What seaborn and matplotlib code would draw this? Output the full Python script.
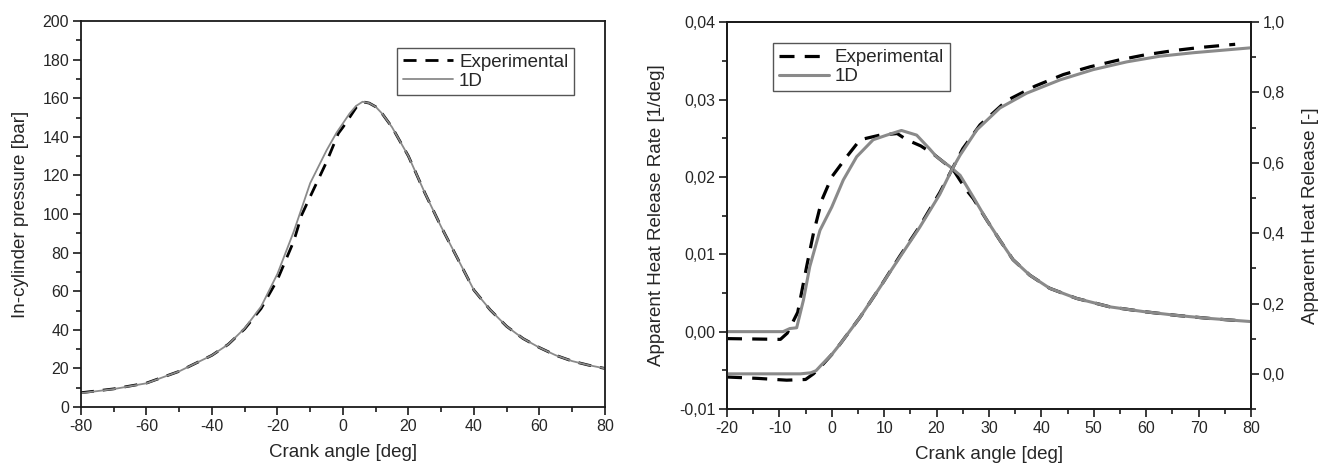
import pandas as pd
import numpy as np
import seaborn as sns
import matplotlib.pyplot as plt
from matplotlib.ticker import MultipleLocator, FixedLocator

# Left panel: in-cylinder pressure [bar] vs crank angle [deg]
p_sim_deg = [-80, -70, -60, -50, -40, -35, -30, -25, -20, -15, -10, -5, -2, 0, 2, 4, 6, 8,
             10, 12, 15, 20, 25, 30, 35, 40, 45, 50, 55, 60, 65, 70, 75, 80]
p_sim = [7.2, 9.3, 12.3, 18.5, 26.8, 32.5, 40.8, 52, 69, 91, 116, 133, 142, 147, 152, 156, 158.2, 157.5,
         155.6, 152, 145, 130, 111, 93.4, 77, 60.6, 50.3, 41.8, 35.5, 30.8, 26.8, 23.8, 21.7, 20]
p_exp_deg = [-80, -70, -60, -50, -40, -35, -30, -25, -20, -15, -12.6, -10, -5, -1.4, 0, 2, 4.2, 6.5, 8,
             10, 12, 15, 20, 25, 30, 35, 40, 45, 50, 55, 60, 65, 70, 75, 80]
p_exp = [7.4, 9.4, 12.4, 18.5, 26.8, 32.5, 40.5, 51, 66, 86, 99.5, 109, 127, 141.8, 145, 150, 155.6, 158, 157.5,
         155.6, 152, 145, 130, 111, 93.4, 77, 60.6, 50.3, 41.8, 35.5, 30.8, 26.8, 23.8, 21.7, 20]

# Right panel: apparent heat release rate [1/deg]
hrr_sim_deg = [-20, -9.3, -8, -6.7, -5.4, -4.2, -2.25, 0, 2.2, 4.75, 7.9, 10.5, 13.3, 16.2, 18.7, 20.0,
               22.6, 24.5, 27.0, 29.6, 32.1, 34.6, 37.8, 41.6, 46.7, 53.1, 59.4, 65.8, 72.2, 80]
hrr_sim = [0.0, 0.0, 0.0004, 0.0005, 0.0041, 0.0084, 0.0131, 0.0161, 0.0196, 0.0226, 0.0248, 0.0254, 0.026,
           0.0254, 0.0236, 0.0226, 0.0213, 0.0202, 0.0174, 0.0144, 0.0118, 0.0093, 0.0073, 0.0056, 0.0043,
           0.0032, 0.0026, 0.0021, 0.0017, 0.0013]
hrr_exp_deg = [-20, -9.8, -8.5, -6.5, -4.8, -3.5, -1.9, 0, 2.85, 5.4, 9.2, 12.5, 14.3, 17, 19.5, 23.2, 25.7,
               27.0, 29.6, 32.1, 34.6, 37.8, 41.6, 46.7, 53.1, 59.4, 65.8, 72.2, 78]
hrr_exp = [-0.0009, -0.001, -0.0002, 0.0025, 0.0084, 0.0127, 0.017, 0.020, 0.0226, 0.0248, 0.0254, 0.0256,
           0.0248, 0.0240, 0.0229, 0.0209, 0.0183, 0.0172, 0.0144, 0.0118, 0.0093, 0.0073, 0.0056, 0.0043,
           0.0032, 0.0026, 0.0021, 0.0017, 0.0014]

# Right panel: apparent heat release [-] (right axis)
ahr_sim_deg = [-20, -6, -4, -3, -2, 0, 1.6, 5.4, 9.2, 13, 16.8, 20.6, 22.9, 24.5, 27.7, 32.1, 37.2, 43.6,
               49.9, 56.3, 62.6, 69, 80]
ahr_sim = [0.0, 0.0, 0.003, 0.009, 0.025, 0.055, 0.085, 0.161, 0.246, 0.332, 0.417, 0.51, 0.58, 0.622,
           0.694, 0.756, 0.798, 0.836, 0.865, 0.887, 0.903, 0.913, 0.927]
ahr_exp_deg = [-20, -14, -8.6, -5, -3.5, -2, 0, 1.6, 5.4, 9.2, 13, 16.8, 20.6, 22.9, 25, 28.3, 33.4, 38.8,
               44.2, 49.3, 54.7, 59.8, 65.2, 70.3, 77]
ahr_exp = [-0.009, -0.013, -0.018, -0.016, 0.0, 0.022, 0.055, 0.085, 0.161, 0.246, 0.335, 0.42, 0.515, 0.58,
           0.64, 0.708, 0.777, 0.818, 0.851, 0.873, 0.892, 0.907, 0.919, 0.928, 0.937]

labels = ["Experimental", "1D"]

sns.set_theme(style="ticks")
plt.rcParams['font.family'] = ['Liberation Sans', 'DejaVu Sans']
plt.rcParams['axes.unicode_minus'] = False
plt.rcParams['axes.edgecolor'] = '#1a1a1a'
plt.rcParams['axes.linewidth'] = 1.3

GRAY = '#8a8a8a'
DASH = (0, (4.7, 3.2))

fig = plt.figure(figsize=(13.23, 4.65), dpi=100)
ax1 = fig.add_axes([0.0612, 0.1247, 0.396, 0.830])
ax2 = fig.add_axes([0.5495, 0.1204, 0.396, 0.832])

leg_kw = dict(fontsize=13.5, frameon=True, fancybox=False, edgecolor='#555555', framealpha=1,
              handlelength=2.7, borderpad=0.3, labelspacing=0.1, handletextpad=0.3, borderaxespad=0)

# --- left panel ---
sns.lineplot(x=p_exp_deg, y=p_exp, ax=ax1, color='black', lw=2.0, linestyle=DASH,
             estimator=None, label=labels[0])
sns.lineplot(x=p_sim_deg, y=p_sim, ax=ax1, color=GRAY, lw=1.3, estimator=None, label=labels[1])
ax1.set_xlim(-80, 80)
ax1.set_ylim(0, 200)
ax1.xaxis.set_major_locator(MultipleLocator(20))
ax1.xaxis.set_minor_locator(MultipleLocator(10))
ax1.yaxis.set_major_locator(MultipleLocator(20))
ax1.yaxis.set_minor_locator(MultipleLocator(10))
ax1.set_xlabel("Crank angle [deg]", fontsize=13.5, labelpad=7)
ax1.set_ylabel("In-cylinder pressure [bar]", fontsize=13.5, labelpad=10)
ax1.legend(loc='upper right', bbox_to_anchor=(0.941, 0.93), **leg_kw)

# --- right panel ---
ax3 = ax2.twinx()
sns.lineplot(x=hrr_exp_deg, y=hrr_exp, ax=ax2, color='black', lw=2.3, linestyle=DASH,
             estimator=None, label=labels[0])
sns.lineplot(x=hrr_sim_deg, y=hrr_sim, ax=ax2, color=GRAY, lw=2.2, estimator=None, label=labels[1])
sns.lineplot(x=ahr_exp_deg, y=ahr_exp, ax=ax3, color='black', lw=2.3, linestyle=DASH,
             estimator=None, legend=False)
sns.lineplot(x=ahr_sim_deg, y=ahr_sim, ax=ax3, color=GRAY, lw=2.2, estimator=None, legend=False)

ax2.set_xlim(-20, 80)
ax2.set_ylim(-0.01, 0.04)
ax3.set_ylim(-0.1, 1.0)
ax2.xaxis.set_major_locator(MultipleLocator(10))
ax2.xaxis.set_minor_locator(MultipleLocator(5))
hrr_ticks = [-0.01, 0.0, 0.01, 0.02, 0.03, 0.04]
ax2.set_yticks(hrr_ticks)
ax2.set_yticklabels([f"{t:.2f}".replace('.', ',') for t in hrr_ticks])
ax2.yaxis.set_minor_locator(FixedLocator([-0.005, 0.005, 0.015, 0.025, 0.035]))
ahr_ticks = [0.0, 0.2, 0.4, 0.6, 0.8, 1.0]
ax3.set_yticks(ahr_ticks)
ax3.set_yticklabels([f"{t:.1f}".replace('.', ',') for t in ahr_ticks])
ax3.yaxis.set_minor_locator(FixedLocator([-0.1, 0.1, 0.3, 0.5, 0.7, 0.9]))
ax2.set_xlabel("Crank angle [deg]", fontsize=13.5, labelpad=7)
ax2.set_ylabel("Apparent Heat Release Rate [1/deg]", fontsize=13.5, labelpad=10)
ax3.set_ylabel("Apparent Heat Release [-]", fontsize=13.5, labelpad=12)
ax3.set_xlabel("")
ax2.legend(loc='upper left', bbox_to_anchor=(0.088, 0.945), **leg_kw)

for ax in (ax1, ax2, ax3):
    for s in ax.spines.values():
        s.set_visible(True)
        s.set_color('#1a1a1a')
    ax.tick_params(which='major', direction='out', length=5.5, width=1.2, labelsize=11.5, pad=3,
                   color='#1a1a1a')
    ax.tick_params(which='minor', direction='out', length=3.5, width=1.2, color='#1a1a1a')
for ax in (ax1, ax2):
    ax.tick_params(which='both', top=False, right=False)
ax3.tick_params(which='both', left=False, right=True)

fig.savefig("out.png", dpi=100)
